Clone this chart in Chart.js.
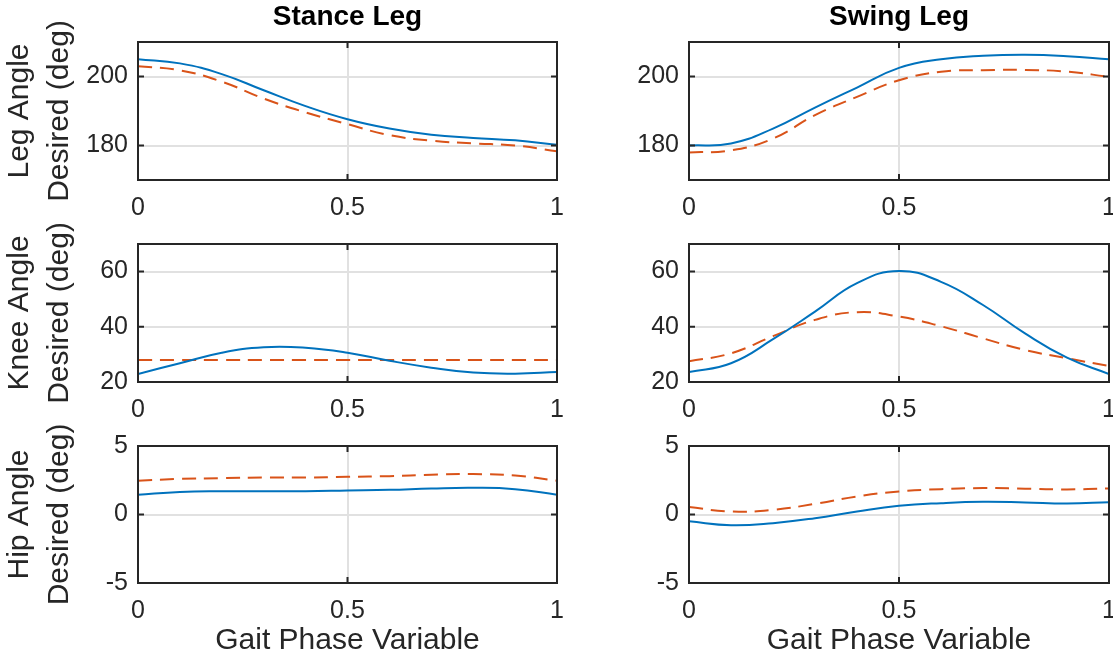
<!DOCTYPE html>
<html>
<head>
<meta charset="utf-8">
<script src="https://cdn.jsdelivr.net/npm/chart.js@4.4.1/dist/chart.umd.min.js"></script>
<style>
html, body { margin: 0; padding: 0; background: #ffffff; }
#wrap { position: relative; width: 1113px; height: 666px; overflow: hidden; background: #ffffff; }
#wrap canvas { position: absolute; }
</style>
</head>
<body>
<div id="wrap"></div>
<script>
// ---------- data ----------
const phase = [0, 0.1, 0.2, 0.3, 0.4, 0.5, 0.6, 0.7, 0.8, 0.9, 1.0];
const xTicks = [0, 0.5, 1];

const legTicks = [180, 200];
const kneeTicks = [20, 40, 60];
const hipTicks = [-5, 0, 5];
const legRange = [170, 210];
const kneeRange = [20, 70];
const hipRange = [-5, 5];

const colTitles = ['Stance Leg', 'Swing Leg'];
const legLabel = ['Leg Angle', 'Desired (deg)'];
const kneeLabel = ['Knee Angle', 'Desired (deg)'];
const hipLabel = ['Hip Angle', 'Desired (deg)'];
const xLabel = 'Gait Phase Variable';

// solid blue curves
const stanceLegA = [205.0, 203.8, 200.7, 196.0, 191.4, 187.6, 184.9, 183.1, 182.2, 181.5, 180.2];
const swingLegA  = [180.0, 180.6, 184.9, 191.0, 196.8, 202.5, 205.0, 206.0, 206.3, 205.9, 205.0];
const stanceKneeA = [22.9, 26.8, 30.6, 32.6, 32.4, 30.6, 27.7, 25.2, 23.4, 23.0, 23.6];
const swingKneeA  = [23.6, 26.8, 35.5, 45.5, 55.8, 60.2, 56.3, 47.9, 37.6, 28.8, 22.9];
const stanceHipA = [1.45, 1.65, 1.7, 1.7, 1.7, 1.75, 1.8, 1.9, 1.95, 1.85, 1.45];
const swingHipA  = [-0.5, -0.78, -0.63, -0.27, 0.22, 0.63, 0.83, 0.93, 0.88, 0.8, 0.9];

// dashed orange curves
const stanceLegB = [203.0, 201.8, 198.5, 193.6, 189.6, 186.2, 183.0, 181.4, 180.6, 180.0, 178.3];
const swingLegB  = [178.0, 178.6, 182.0, 188.8, 194.1, 198.9, 201.4, 201.8, 201.9, 201.4, 199.9];
const stanceKneeB = [28, 28, 28, 28, 28, 28, 28, 28, 28, 28, 28];
const swingKneeB  = [27.5, 30.4, 36.6, 42.5, 45.3, 43.7, 40.2, 35.8, 31.6, 28.6, 25.8];
const stanceHipB = [2.47, 2.6, 2.65, 2.7, 2.7, 2.75, 2.8, 2.9, 2.95, 2.85, 2.47];
const swingHipB  = [0.54, 0.22, 0.34, 0.78, 1.32, 1.68, 1.85, 1.93, 1.88, 1.83, 1.9];

// ---------- styling / layout ----------
const FONT = '"Liberation Sans", Arial, Helvetica, sans-serif';
const TXT = '#262626';
const BLUE = '#0072BD';
const ORANGE = '#D95319';
const GRID = '#e1e1e1';

const cols = [
  { left: 0,   width: 570, yWidth: 138, padRight: 13 },
  { left: 571, width: 542, yWidth: 118, padRight: 4 }
];
const rows = [
  { top: 0,   height: 232, padTop: 0,  xHeight: 52 },
  { top: 212, height: 220, padTop: 32, xHeight: 50 },
  { top: 410, height: 256, padTop: 36, xHeight: 83 }
];

const panels = [
  { r: 0, c: 0, a: stanceLegA, b: stanceLegB, range: legRange, ticks: legTicks, ylab: legLabel },
  { r: 0, c: 1, a: swingLegA, b: swingLegB, range: legRange, ticks: legTicks, ylab: null },
  { r: 1, c: 0, a: stanceKneeA, b: stanceKneeB, range: kneeRange, ticks: kneeTicks, ylab: kneeLabel },
  { r: 1, c: 1, a: swingKneeA, b: swingKneeB, range: kneeRange, ticks: kneeTicks, ylab: null },
  { r: 2, c: 0, a: stanceHipA, b: stanceHipB, range: hipRange, ticks: hipTicks, ylab: hipLabel },
  { r: 2, c: 1, a: swingHipA, b: swingHipB, range: hipRange, ticks: hipTicks, ylab: null }
];

// box + inward tick marks (MATLAB style axes)
const boxPlugin = {
  id: 'matlabBox',
  afterDraw(chart) {
    const ctx = chart.ctx;
    const a = chart.chartArea;
    const xs = chart.scales.x, ys = chart.scales.y;
    const tl = 6;
    ctx.save();
    ctx.strokeStyle = TXT;
    ctx.lineWidth = 2;
    ctx.beginPath();
    ys.ticks.forEach(t => {
      const p = ys.getPixelForValue(t.value);
      ctx.moveTo(a.left, p); ctx.lineTo(a.left + tl, p);
      ctx.moveTo(a.right, p); ctx.lineTo(a.right - tl, p);
    });
    xs.ticks.forEach(t => {
      const p = xs.getPixelForValue(t.value);
      ctx.moveTo(p, a.bottom); ctx.lineTo(p, a.bottom - tl);
      ctx.moveTo(p, a.top); ctx.lineTo(p, a.top + tl);
    });
    ctx.stroke();
    ctx.strokeRect(a.left, a.top, a.right - a.left, a.bottom - a.top);
    ctx.restore();
  }
};

const wrap = document.getElementById('wrap');

panels.forEach(pn => {
  const col = cols[pn.c], row = rows[pn.r];
  const cv = document.createElement('canvas');
  cv.width = col.width; cv.height = row.height;
  cv.style.left = col.left + 'px'; cv.style.top = row.top + 'px';
  cv.style.width = col.width + 'px'; cv.style.height = row.height + 'px';
  wrap.appendChild(cv);

  const ptsA = phase.map((x, i) => ({ x: x, y: pn.a[i] }));
  const ptsB = phase.map((x, i) => ({ x: x, y: pn.b[i] }));

  new Chart(cv.getContext('2d'), {
    type: 'line',
    data: {
      datasets: [
        { label: 'Actual', data: ptsA, borderColor: BLUE, borderWidth: 2, pointRadius: 0,
          fill: false, tension: 0.45 },
        { label: 'Desired', data: ptsB, borderColor: ORANGE, borderWidth: 2, pointRadius: 0,
          borderDash: [14, 8], fill: false, tension: 0.45 }
      ]
    },
    options: {
      responsive: false,
      animation: false,
      devicePixelRatio: 1,
      events: [],
      layout: { padding: { top: row.padTop, right: col.padRight, bottom: 0, left: 0 } },
      plugins: {
        legend: { display: false },
        tooltip: { enabled: false },
        title: {
          display: pn.r === 0,
          text: colTitles[pn.c],
          fullSize: false,
          color: '#000000',
          font: { family: FONT, size: 28, weight: 'bold', lineHeight: 1.2 },
          padding: { top: 0, bottom: 8.4 }
        }
      },
      scales: {
        x: {
          type: 'linear',
          min: 0, max: 1,
          afterBuildTicks: s => { s.ticks = xTicks.map(v => ({ value: v })); },
          afterFit: s => { s.height = row.xHeight; s.paddingLeft = 0; s.paddingRight = 0; },
          ticks: { color: TXT, padding: 13.5, maxRotation: 0, autoSkip: false,
                   font: { family: FONT, size: 25 }, callback: v => String(v) },
          grid: { color: GRID, lineWidth: 2, drawTicks: false },
          border: { display: false },
          title: {
            display: pn.r === 2,
            text: xLabel,
            color: TXT,
            font: { family: FONT, size: 30, lineHeight: 1.2 },
            padding: { top: 0, bottom: 7 }
          }
        },
        y: {
          type: 'linear',
          min: pn.range[0], max: pn.range[1],
          afterBuildTicks: s => { s.ticks = pn.ticks.map(v => ({ value: v })); },
          afterFit: s => { s.width = col.yWidth; s.paddingTop = 0; s.paddingBottom = 0; },
          ticks: { color: TXT, padding: 10, autoSkip: false,
                   font: { family: FONT, size: 25 }, callback: v => String(v) },
          grid: { color: GRID, lineWidth: 2, drawTicks: false },
          border: { display: false },
          title: {
            display: !!pn.ylab,
            text: pn.ylab || '',
            color: TXT,
            font: { family: FONT, size: 30, lineHeight: 1.32 },
            padding: { top: 0, bottom: 0 }
          }
        }
      }
    },
    plugins: [boxPlugin]
  });
});
</script>
</body>
</html>
